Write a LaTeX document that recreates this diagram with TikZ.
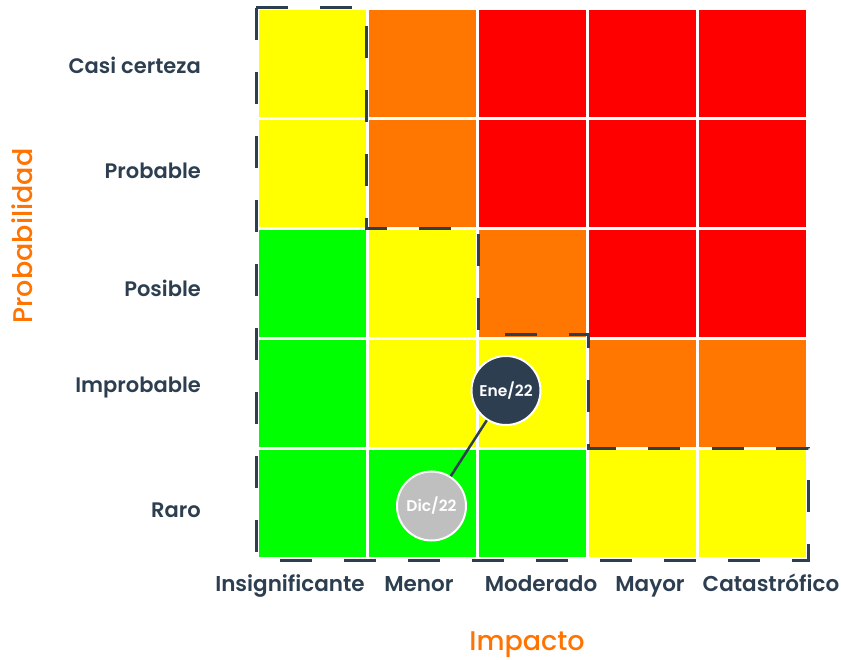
\documentclass[tikz,border=0pt]{standalone}
\usepackage{fontspec}
\setmainfont{Poppins}[BoldFont={Poppins SemiBold}]
\newfontfamily\axisfont{Poppins Medium}
\usepackage{tikz}
\definecolor{riskyellow}{HTML}{FFFF00}
\definecolor{riskorange}{HTML}{FF7700}
\definecolor{riskred}{HTML}{FF0000}
\definecolor{riskgreen}{HTML}{00FF00}
\definecolor{slate}{HTML}{2C3E50}
\definecolor{axisorange}{HTML}{FF7300}
\definecolor{dicgray}{HTML}{BFBFBF}
\tikzset{
  rowlabel/.style={anchor=east, inner sep=0pt, text=slate, text height=0.75em, text depth=0.25em,
    font=\bfseries\fontsize{21}{24}\selectfont},
  collabel/.style={inner sep=0pt, text=slate, text height=0.75em, text depth=0.25em,
    font=\bfseries\fontsize{21.5}{24}\selectfont},
  axislabel/.style={inner sep=0pt, text=axisorange, text height=0.75em, text depth=0.25em,
    font=\axisfont\fontsize{27}{30}\selectfont},
  marker/.style={circle, minimum size=69pt, inner sep=0pt, draw=white, line width=2pt,
    text=white, font=\bfseries\fontsize{15.5}{18}\selectfont},
  zone/.style={slate, line width=3pt, dash pattern=on 32pt off 32pt}
}
\newcommand{\drawcell}[3]
{
  \fill[#3, draw=white, line width=3pt] (257.5+110*#1, 8.5+110*#2) rectangle +(110,110);
}
\begin{document}
\begin{tikzpicture}[x=1pt,y=-1pt]
    \useasboundingbox (0,0) rectangle (841,660);

    % matrix cells, row by row from the top
    \drawcell{0}{0}{riskyellow} \drawcell{1}{0}{riskorange} \drawcell{2}{0}{riskred}
    \drawcell{3}{0}{riskred}    \drawcell{4}{0}{riskred}
    \drawcell{0}{1}{riskyellow} \drawcell{1}{1}{riskorange} \drawcell{2}{1}{riskred}
    \drawcell{3}{1}{riskred}    \drawcell{4}{1}{riskred}
    \drawcell{0}{2}{riskgreen}  \drawcell{1}{2}{riskyellow} \drawcell{2}{2}{riskorange}
    \drawcell{3}{2}{riskred}    \drawcell{4}{2}{riskred}
    \drawcell{0}{3}{riskgreen}  \drawcell{1}{3}{riskyellow} \drawcell{2}{3}{riskyellow}
    \drawcell{3}{3}{riskorange} \drawcell{4}{3}{riskorange}
    \drawcell{0}{4}{riskgreen}  \drawcell{1}{4}{riskgreen}  \drawcell{2}{4}{riskgreen}
    \drawcell{3}{4}{riskyellow} \drawcell{4}{4}{riskyellow}

    % tolerable zone
    \draw[zone] (256,8) -- (366,8) -- (366,229) -- (478,229) -- (478,335)
      -- (588,335) -- (588,448) -- (808,448) -- (808,560) -- (256,560) -- cycle;

    % probability levels
    \node[rowlabel] (casi) at (201,71) {Casi certeza};
    \node[rowlabel] (probable) at (201,176) {Probable};
    \node[rowlabel] (posible) at (201,294) {Posible};
    \node[rowlabel] (improbable) at (201,390) {Improbable};
    \node[rowlabel] (raro) at (201,515) {Raro};

    % impact levels
    \node[collabel] (insig) at (290,589) {Insignificante};
    \node[collabel] (menor) at (419,589) {Menor};
    \node[collabel] (moderado) at (541,589) {Moderado};
    \node[collabel] (mayor) at (650,589) {Mayor};
    \node[collabel] (catas) at (771,589) {Catastrófico};

    \node[axislabel] (impacto) at (527,648) {Impacto};
    \node[axislabel, rotate=90] (probab) at (30,236) {Probabilidad};

    % evolution of the risk
    \node[marker, fill=slate] (ene) at (506,390.5) {Ene/22};
    \node[marker, fill=dicgray] (dic) at (431.5,506) {Dic/22};
    \draw[slate, line width=2.5pt] (dic) -- (ene);
\end{tikzpicture}
\end{document}
